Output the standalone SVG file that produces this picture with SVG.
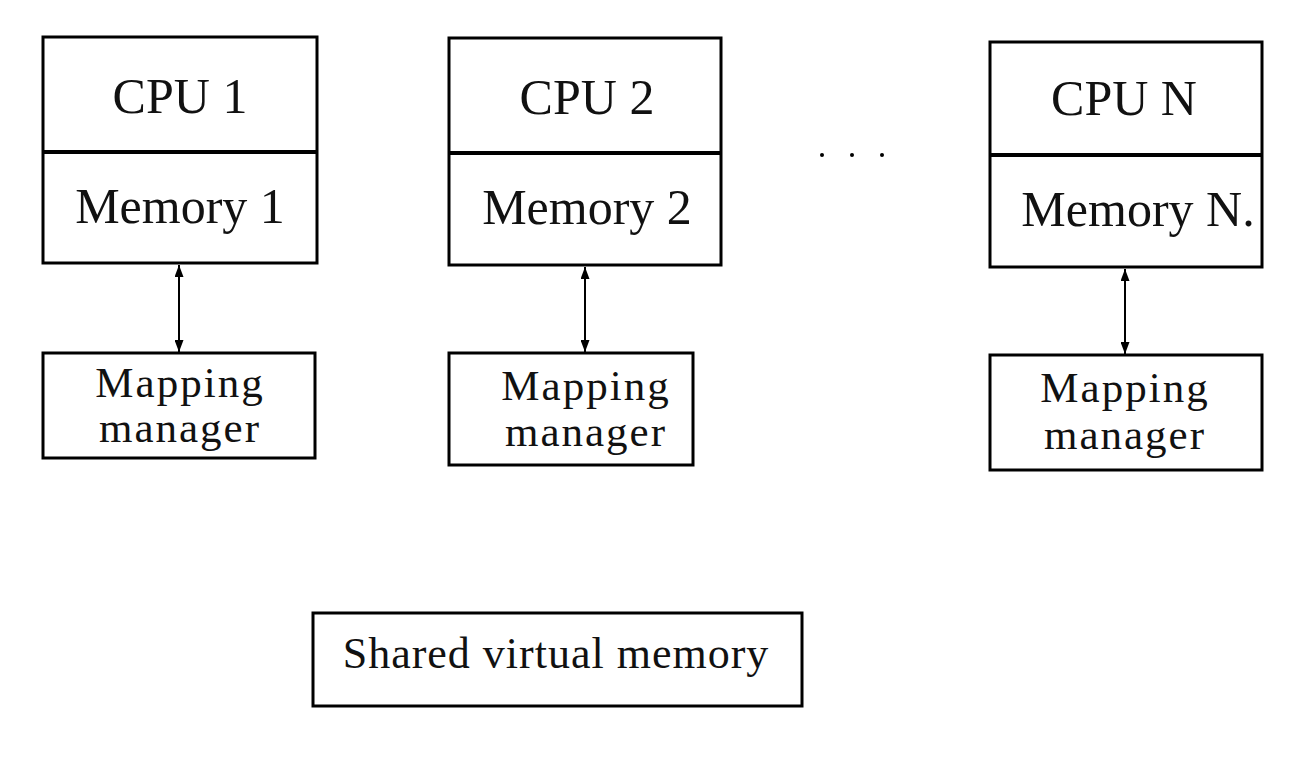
<svg xmlns="http://www.w3.org/2000/svg" width="1309" height="775" viewBox="0 0 1309 775">
<style>
.box{fill:#fff;stroke:#000;stroke-width:3}
.div{stroke:#000;stroke-width:4}
.big{font-family:"Liberation Serif",serif;font-size:50px;fill:#111;text-anchor:middle}
.mid{font-family:"Liberation Serif",serif;font-size:43px;fill:#111;text-anchor:middle;letter-spacing:2px}
.con{stroke:#000;stroke-width:2;fill:none;marker-start:url(#ah);marker-end:url(#ah)}
</style>
<defs>
<marker id="ah" viewBox="0 0 12 9" refX="12" refY="4.5" markerWidth="12" markerHeight="9" markerUnits="userSpaceOnUse" orient="auto-start-reverse">
<path d="M0,0 L12,4.5 L0,9 Z" fill="#000"/>
</marker>
</defs>
<rect width="1309" height="775" fill="#fff"/>
<g id="connectors">
<line class="con" x1="179" y1="265" x2="179" y2="352"/>
<line class="con" x1="585" y1="267" x2="585" y2="352"/>
<line class="con" x1="1125" y1="269" x2="1125" y2="354"/>
</g>
<g id="node1">
<rect class="box" x="43" y="37" width="274" height="226"/>
<line class="div" x1="43" y1="152" x2="317" y2="152"/>
<text class="big" x="180" y="113">CPU 1</text>
<text class="big" x="180" y="223">Memory 1</text>
</g>
<g id="node2">
<rect class="box" x="449" y="38" width="272" height="227"/>
<line class="div" x1="449" y1="153" x2="721" y2="153"/>
<text class="big" x="587" y="114">CPU 2</text>
<text class="big" x="587" y="224">Memory 2</text>
</g>
<g id="nodeN">
<rect class="box" x="990" y="42" width="272" height="225"/>
<line class="div" x1="990" y1="155" x2="1262" y2="155"/>
<text class="big" x="1124" y="115">CPU N</text>
<text class="big" x="1138" y="226">Memory N.</text>
</g>
<g id="map1">
<rect class="box" x="43" y="353" width="272" height="105"/>
<text class="mid" x="180" y="397">Mapping</text>
<text class="mid" x="180" y="442">manager</text>
</g>
<g id="map2">
<rect class="box" x="449" y="353" width="244" height="112"/>
<text class="mid" x="586" y="400">Mapping</text>
<text class="mid" x="586" y="446">manager</text>
</g>
<g id="mapN">
<rect class="box" x="990" y="355" width="272" height="115"/>
<text class="mid" x="1125" y="402">Mapping</text>
<text class="mid" x="1125" y="449">manager</text>
</g>
<g id="dots">
<circle cx="822" cy="155" r="2" fill="#000"/>
<circle cx="852" cy="155" r="2" fill="#000"/>
<circle cx="882" cy="155" r="2" fill="#000"/>
</g>
<g id="shared">
<rect class="box" x="313" y="613" width="489" height="93"/>
<text class="big" x="556" y="668" style="font-size:44px;letter-spacing:1px">Shared virtual memory</text>
</g>
</svg>
